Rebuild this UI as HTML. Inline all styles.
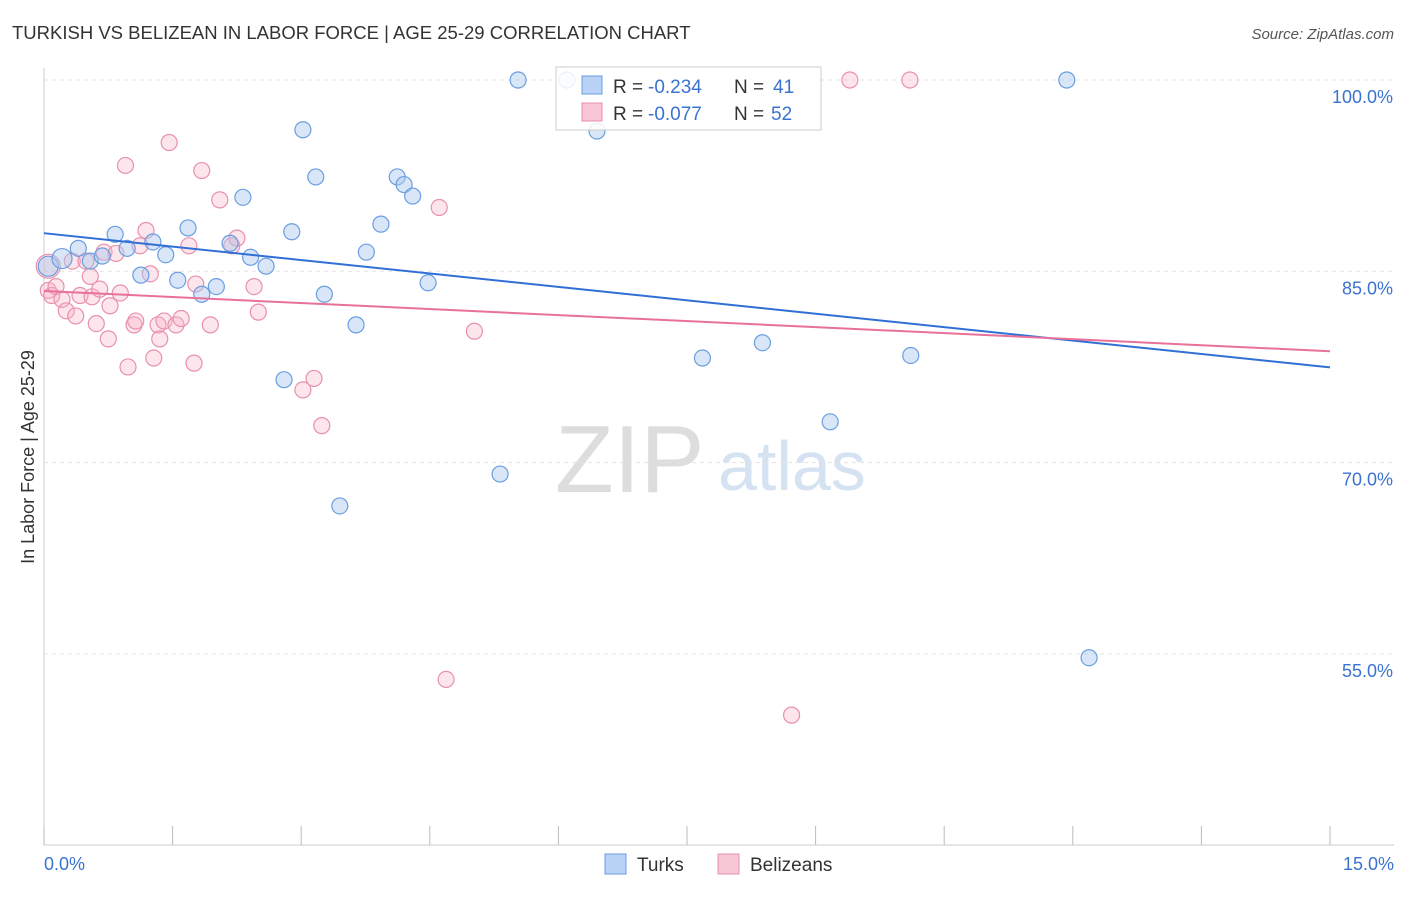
<!DOCTYPE html>
<html><head><meta charset="utf-8"><style>
body{margin:0;background:#fff;font-family:"Liberation Sans",sans-serif}
svg text{font-family:"Liberation Sans",sans-serif}
</style></head><body>
<svg id="c" width="1406" height="892">
<text x="12" y="39" font-size="18.5" fill="#333">TURKISH VS BELIZEAN IN LABOR FORCE | AGE 25-29 CORRELATION CHART</text>
<text x="1394" y="39" font-size="15" fill="#555" text-anchor="end" font-style="italic">Source: ZipAtlas.com</text>
<text x="0" y="0" transform="translate(34,457) rotate(-90)" font-size="18" fill="#333" text-anchor="middle">In Labor Force | Age 25-29</text>
<text x="555" y="492" font-size="96" fill="#ddd" font-family="Liberation Serif">ZIP</text>
<text x="718" y="490" font-size="70" fill="#d5e2f2">atlas</text>
<g id="grid"></g><g id="pts"></g><g id="lines"></g>
<g>
<rect x="556" y="67" width="265" height="63" fill="rgba(255,255,255,0.85)" stroke="#ccc"/>
<rect x="582" y="76" width="20" height="18" fill="#b8d3f5" stroke="#6a9ee0"/>
<text x="613" y="93" font-size="19" fill="#333">R =</text>
<text x="648" y="93" font-size="19" fill="#3a73cf">-0.234</text>
<text x="734" y="93" font-size="19" fill="#333">N =</text>
<text x="773" y="93" font-size="19" fill="#3a73cf">41</text>
<rect x="582" y="103" width="20" height="18" fill="#f8c6d4" stroke="#e890ad"/>
<text x="613" y="120" font-size="19" fill="#333">R =</text>
<text x="648" y="120" font-size="19" fill="#3a73cf">-0.077</text>
<text x="734" y="120" font-size="19" fill="#333">N =</text>
<text x="771" y="120" font-size="19" fill="#3a73cf">52</text>
</g>
<g>
<rect x="605" y="854" width="21" height="20" fill="#b8d3f5" stroke="#6a9ee0"/>
<text x="637" y="871" font-size="19" fill="#333">Turks</text>
<rect x="718" y="854" width="21" height="20" fill="#f8c6d4" stroke="#e890ad"/>
<text x="750" y="871" font-size="19" fill="#333">Belizeans</text>
</g>
<text x="44" y="870" font-size="18" fill="#3a73cf">0.0%</text>
<text x="1394" y="870" font-size="18" fill="#3a73cf" text-anchor="end">15.0%</text>
</svg>
<script>
const yTicks=[100,85,70,55];
const xTicks=[0,1.5,3,4.5,6,7.5,9,10.5,12,13.5,15];
const turksX=[0.05,0.21,0.40,0.54,0.68,0.83,0.97,1.13,1.27,1.42,1.56,1.68,1.84,2.01,2.17,2.32,2.41,2.59,2.80,2.89,3.02,3.17,3.27,3.45,3.64,3.76,3.93,4.12,4.20,4.30,4.48,5.32,5.53,6.10,6.45,7.68,8.38,9.17,10.11,11.93,12.19];
const turksY=[85.4,86.0,86.8,85.8,86.2,87.9,86.8,84.7,87.3,86.3,84.3,88.4,83.2,83.8,87.2,90.8,86.1,85.4,76.5,88.1,96.1,92.4,83.2,66.6,80.8,86.5,88.7,92.4,91.8,90.9,84.1,69.1,100,100,96.0,78.2,79.4,73.2,78.4,100,54.7];
const belX=[0.05,0.09,0.14,0.21,0.26,0.33,0.37,0.42,0.49,0.54,0.56,0.61,0.65,0.70,0.75,0.77,0.84,0.89,0.95,0.98,1.05,1.07,1.12,1.19,1.24,1.28,1.33,1.35,1.40,1.46,1.54,1.60,1.69,1.75,1.77,1.84,1.94,2.05,2.19,2.25,2.45,2.50,3.02,3.15,3.24,4.61,4.69,5.02,8.72,9.40,10.10,0.05];
const belY=[83.5,83.1,83.8,82.8,81.9,85.8,81.5,83.1,85.8,84.6,83.0,80.9,83.6,86.5,79.7,82.3,86.4,83.3,93.3,77.5,80.8,81.1,87.0,88.2,84.8,78.2,80.8,79.7,81.1,95.1,80.8,81.3,87.0,77.8,84.0,92.9,80.8,90.6,87.0,87.6,83.8,81.8,75.7,76.6,72.9,90.0,53.0,80.3,50.2,100,100,85.4];
const X=v=>44+v/15*1286, Y=v=>80+(100-v)*191.3/15;
const NS="http://www.w3.org/2000/svg";
function mk(t,a,p){const e=document.createElementNS(NS,t);for(const k in a)e.setAttribute(k,a[k]);p.appendChild(e);return e;}
const g=document.getElementById('grid');
mk('line',{x1:44,y1:68,x2:44,y2:845,stroke:'#ccc'},g);
mk('line',{x1:44,y1:845,x2:1394,y2:845,stroke:'#ccc'},g);
yTicks.forEach(v=>{const l=mk('line',{x1:44,y1:Y(v),x2:1394,y2:Y(v),stroke:'#e3e3e3','stroke-dasharray':'4,4'},g);


const t=mk('text',{x:1393,y:Y(v)+23,'font-size':18,fill:'#3a73cf','text-anchor':'end'},g);t.textContent=v.toFixed(1)+'%';

});
xTicks.forEach(v=>{const l=mk('line',{x1:X(v),y1:826,x2:X(v),y2:845,stroke:'#bbb'},g);

});
const p=document.getElementById('pts');
belX.forEach((x,i)=>{const c=mk('circle',{cx:X(x),cy:Y(belY[i]),r:i==51?12:8,fill:'rgba(248,180,200,0.35)',stroke:'#e890ad','stroke-width':1.2},p);

});
turksX.forEach((x,i)=>{const c=mk('circle',{cx:X(x),cy:Y(turksY[i]),r:i<2?10:8,fill:'rgba(170,200,240,0.45)',stroke:'#6a9ee0','stroke-width':1.2},p);

});
function trend(xs,ys,col,name){const n=Math.min(xs.length,ys.length);let mx=0,my=0;for(let i=0;i<n;i++){mx+=xs[i];my+=ys[i];}mx/=n;my/=n;let sxy=0,sxx=0;for(let i=0;i<n;i++){sxy+=(xs[i]-mx)*(ys[i]-my);sxx+=(xs[i]-mx)**2;}const b=sxy/sxx,a=my-b*mx;
const l=mk('line',{x1:X(0),y1:Y(a),x2:X(15),y2:Y(a+b*15),stroke:col,'stroke-width':2},document.getElementById('lines'));

}
trend(turksX,turksY,'#2f6fd6','turks-trend-line');
trend(belX,belY,'#e8709a','belizeans-trend-line');
</script>
</body></html>
